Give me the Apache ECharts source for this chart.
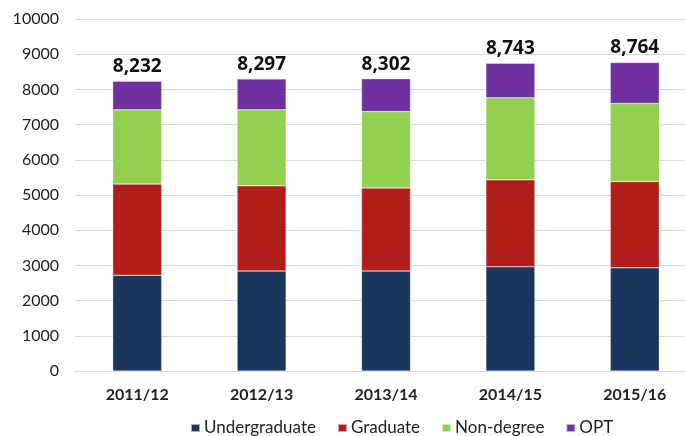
<!DOCTYPE html>
<html><head><meta charset="utf-8">
<script src="https://cdn.jsdelivr.net/npm/echarts@6/dist/echarts.min.js"></script>
<style>html,body{margin:0;padding:0;background:#fff}#c{width:685px;height:436px}</style>
</head><body><div id="c"></div>
<script>
const categories = ['2011/12','2012/13','2013/14','2014/15','2015/16'];
const undergraduate = [2720, 2840, 2840, 2960, 2930];
const graduate = [2590, 2420, 2360, 2470, 2450];
const nonDegree = [2110, 2160, 2170, 2330, 2220];
const opt = [812, 877, 932, 983, 1164];
const totals = [8232, 8297, 8302, 8743, 8764];
const yTicks = [0,1000,2000,3000,4000,5000,6000,7000,8000,9000,10000];

const chart = echarts.init(document.getElementById('c'), null, {renderer:'canvas'});
const font = 'Lato';
function mk(name, data, color, last){
  const s = {name, type:'bar', stack:'t', data, barWidth:49,
    itemStyle:{color, borderColor:'rgba(255,255,255,0.6)', borderWidth:0.5}};
  if(last){
    s.label = {show:true, position:'top', distance:5, color:'#111', fontFamily:'Open Sans', fontWeight:'bold', fontSize:19,
      formatter:p=>totals[p.dataIndex].toLocaleString('en-US')};
  }
  return s;
}
chart.setOption({
  animation:false,
  grid:{left:75, width:622, top:19, bottom:65, outerBoundsMode:'none', containLabel:false},
  legend:{left:190, top:419, padding:0, itemWidth:9, itemHeight:8, itemGap:21, icon:'rect',
    textStyle:{fontFamily:font, fontSize:17, lineHeight:18, color:'#222', padding:[0,0,0,-1]},
    data:['Undergraduate','Graduate','Non-degree','OPT']},
  xAxis:{type:'category', data:categories, axisTick:{show:false},
    axisLine:{show:true, lineStyle:{color:'#d9d9d9', width:1}},
    axisLabel:{fontFamily:font, fontWeight:'bold', fontSize:16, color:'#222', margin:16}},
  yAxis:{type:'value', min:0, max:10000, interval:1000,
    axisLine:{show:false}, axisTick:{show:false},
    splitLine:{lineStyle:{color:'#d9d9d9', width:1}},
    axisLabel:{fontFamily:font, fontSize:16, color:'#222', margin:16,
      formatter:v=>yTicks.includes(v)?String(v):''}},
  series:[
    mk('Undergraduate', undergraduate, '#19375c'),
    mk('Graduate', graduate, '#b01e1b'),
    mk('Non-degree', nonDegree, '#92d050'),
    mk('OPT', opt, '#7030a0', true)
  ]
});
</script></body></html>
